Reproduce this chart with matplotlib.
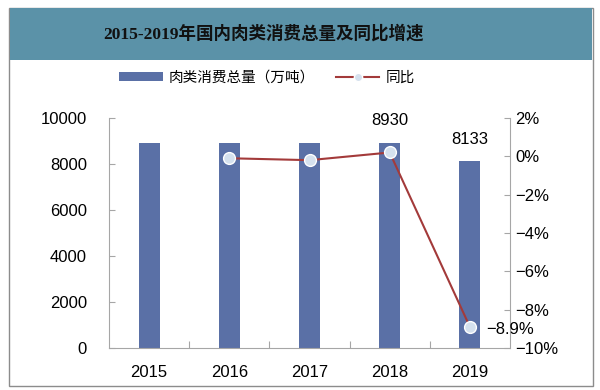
import matplotlib
matplotlib.use("Agg")
import matplotlib.pyplot as plt
from matplotlib.patches import Rectangle
from matplotlib.lines import Line2D
from matplotlib.patches import Patch

plt.rcParams['font.family'] = ['Liberation Sans', 'Noto Sans CJK SC', 'DejaVu Sans']

years = ['2015', '2016', '2017', '2018', '2019']
consumption = [8925, 8920, 8915, 8930, 8133]
growth_years_idx = [1, 2, 3, 4]
growth = [-0.1, -0.2, 0.2, -8.9]
left_ticks = [0, 2000, 4000, 6000, 8000, 10000]
right_ticks = [-10, -8, -6, -4, -2, 0, 2]
title = '2015-2019年国内肉类消费总量及同比增速'
bar_label = '肉类消费总量（万吨）'
line_label = '同比'

bar_color = '#5a70a6'
line_color = '#a33a3a'
marker_face = '#d5e1ee'
band_color = '#5b92a8'

fig = plt.figure(figsize=(6, 3.9), dpi=100)

# outer border and title band
fig.patches.append(Rectangle((9/600, 1-386/390), 584/600, 378/390, transform=fig.transFigure,
                             fill=False, edgecolor='#8c8c8c', linewidth=1.0, zorder=0))
fig.patches.append(Rectangle((10/600, 1-60/390), 582/600, 52/390, transform=fig.transFigure,
                             facecolor=band_color, edgecolor='none', zorder=0))
fig.text(264/600, 1-34/390, title, ha='center', va='center', fontsize=12.6,
         family=['Liberation Serif', 'Noto Sans CJK SC'], color='#111111', fontweight='bold')

ax = fig.add_axes([109/600, 1-348/390, 401/600, 230/390])
x = list(range(len(years)))
ax.bar(x, consumption, width=0.26, color=bar_color, zorder=2)
ax.set_xlim(-0.5, 4.5)
ax.set_ylim(0, 10000)
ax.set_yticks(left_ticks)
ax.set_yticklabels([str(v) for v in left_ticks], fontsize=12)
ax.set_xticks([i + 0.5 for i in range(-1, 5)][1:-1])
ax.set_xticklabels([])
ax.set_xticks(x, minor=True)
ax.set_xticklabels(years, minor=True, fontsize=12)
ax.tick_params(axis='x', which='major', direction='in', length=5, color='#a6a6a6')
ax.tick_params(axis='x', which='minor', length=0, pad=12)
ax.tick_params(axis='y', direction='in', length=4, color='#a6a6a6', pad=16)
for s in ['top', 'right']:
    ax.spines[s].set_visible(False)
for s in ['left', 'bottom']:
    ax.spines[s].set_color('#a6a6a6')

ax.text(3, consumption[3] + 950, str(consumption[3]), ha='center', va='center', fontsize=12)
ax.text(4, consumption[4] + 950, str(consumption[4]), ha='center', va='center', fontsize=12)

ax2 = ax.twinx()
ax2.set_ylim(-10, 2)
ax2.set_yticks(right_ticks)
ax2.set_yticklabels([f'{v}%'.replace('-', '−') for v in right_ticks], fontsize=12)
ax2.tick_params(axis='y', direction='in', length=4, color='#a6a6a6', pad=4)
for s in ['top', 'left', 'bottom']:
    ax2.spines[s].set_visible(False)
ax2.spines['right'].set_color('#a6a6a6')
ax2.plot(growth_years_idx, growth, color=line_color, linewidth=1.5, marker='o', markersize=8.5,
         markerfacecolor=marker_face, markeredgecolor='white', markeredgewidth=1, zorder=3)
ax2.text(4.2, growth[-1] - 0.15, f'{growth[-1]}%'.replace('-', '−'), ha='left', va='center', fontsize=12)

handles = [Patch(facecolor=bar_color, edgecolor='none'),
           Line2D([], [], color=line_color, linewidth=1.5, marker='o', markersize=6,
                  markerfacecolor=marker_face, markeredgecolor='white')]
fig.legend(handles, [bar_label, line_label], loc='center', bbox_to_anchor=(267/600, 1-78/390),
           ncol=2, frameon=False, prop={'family': ['Noto Sans CJK SC'], 'size': 10.5},
           handlelength=3.0, handleheight=0.6, columnspacing=1.4, handletextpad=0.4)

fig.savefig('out.png', dpi=100)
